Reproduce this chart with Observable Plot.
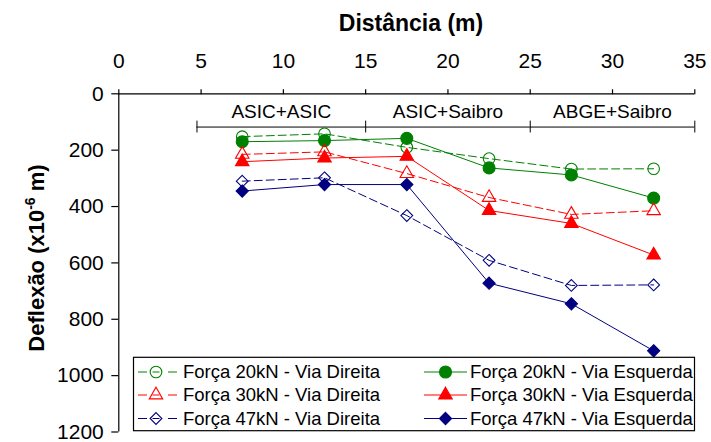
<!DOCTYPE html>
<html>
<head>
<meta charset="utf-8">
<script src="https://cdn.jsdelivr.net/npm/d3@7"></script>
<script src="https://cdn.jsdelivr.net/npm/@observablehq/plot@0.6"></script>
<style>
  html, body { margin: 0; padding: 0; background: #fff; }
  #chart svg { display: block; font-family: "Liberation Sans", Arial, sans-serif; }
</style>
</head>
<body>
<div id="chart"></div>
<script>
// ---- data ----
const distances = [7.5, 12.5, 17.5, 22.5, 27.5, 32.5];
const f20Direita  = [152, 142, 190, 230, 267, 266];
const f20Esquerda = [170, 166, 158, 263, 288, 370];
const f30Direita  = [215, 206, 283, 368, 428, 415];
const f30Esquerda = [241, 228, 222, 414, 460, 572];
const f47Direita  = [310, 298, 432, 591, 680, 678];
const f47Esquerda = [345, 322, 322, 672, 745, 912];

const xTicks = [0, 5, 10, 15, 20, 25, 30, 35];
const yTicks = [0, 200, 400, 600, 800, 1000, 1200];

const segmentLabels = ["ASIC+ASIC", "ASIC+Saibro", "ABGE+Saibro"];
const segmentStarts = [4.75, 15, 25];
const segmentEnds   = [15, 25, 35];

const seriesNames = [
  "Força 20kN - Via Direita", "Força 20kN - Via Esquerda",
  "Força 30kN - Via Direita", "Força 30kN - Via Esquerda",
  "Força 47kN - Via Direita", "Força 47kN - Via Esquerda"
];
const seriesValues = [f20Direita, f20Esquerda, f30Direita, f30Esquerda, f47Direita, f47Esquerda];
const seriesColors = ["#008000", "#008000", "#FF0000", "#FF0000", "#000080", "#000080"];
const seriesSymbols = ["circle", "circle", "triangle", "triangle", "diamond2", "diamond2"];
const seriesFilled = [false, true, false, true, false, true];
const seriesR = [5.8, 6, 5, 5, 5.3, 5.5];

// ---- build ----
const W = 711, H = 442;
const marks = [];

// bracket annotations (in data space)
const segs = segmentLabels.map((l, i) => ({label: l, x1: segmentStarts[i], x2: segmentEnds[i], mid: (segmentStarts[i] + segmentEnds[i]) / 2}));
const bracketLevel = 118;
const bounds = [segmentStarts[0], ...segmentEnds];
marks.push(Plot.ruleY(segs, {x1: "x1", x2: "x2", y: bracketLevel, stroke: "black", strokeWidth: 1}));
marks.push(Plot.ruleX(bounds, {x: d => d, y1: bracketLevel - 21, y2: bracketLevel + 21, stroke: "black", strokeWidth: 1}));
marks.push(Plot.text(segs, {x: "mid", y: bracketLevel, dy: -15, text: "label", fontSize: 19, fill: "black"}));

// lines
seriesValues.forEach((vals, i) => {
  const data = distances.map((d, j) => ({x: d, y: vals[j]}));
  marks.push(Plot.line(data, {
    x: "x", y: "y", stroke: seriesColors[i], strokeWidth: 1,
    strokeDasharray: seriesFilled[i] ? null : "8,4"
  }));
});
// dots
seriesValues.forEach((vals, i) => {
  const data = distances.map((d, j) => ({x: d, y: vals[j]}));
  marks.push(Plot.dot(data, {
    x: "x", y: "y", symbol: seriesSymbols[i], r: seriesR[i],
    stroke: seriesColors[i], strokeWidth: 1.1,
    fill: seriesFilled[i] ? seriesColors[i] : "none"
  }));
});

// axes
marks.push(Plot.ruleY([0], {stroke: "black", strokeWidth: 1.2}));
marks.push(Plot.ruleX([0], {stroke: "black", strokeWidth: 1.2}));
marks.push(Plot.axisX(xTicks, {anchor: "top", tickSize: 5, tickPadding: 21, fontSize: 21, label: null, tickFormat: d => String(d), stroke: "black", strokeWidth: 1.2}));
marks.push(Plot.axisY(yTicks, {anchor: "left", tickSize: 7, tickPadding: 8, fontSize: 21, label: null, tickFormat: d => String(d), stroke: "black", strokeWidth: 1.2}));

const svg = Plot.plot({
  width: W, height: H,
  marginLeft: 118.3, marginRight: 16.7, marginTop: 93.3, marginBottom: 10.5,
  x: {domain: [0, 35]},
  y: {domain: [0, 1200], reverse: true},
  style: {fontFamily: "'Liberation Sans', Arial, sans-serif", color: "black", background: "white", overflow: "visible"},
  marks
});

const s = d3.select(svg);
// axis titles
s.append("text")
  .attr("x", 411).attr("y", 31)
  .attr("text-anchor", "middle")
  .attr("font-size", 23).attr("font-weight", "bold").attr("fill", "black")
  .text("Distância (m)");

const yl = s.append("text")
  .attr("transform", "translate(44,258) rotate(-90)")
  .attr("text-anchor", "middle")
  .attr("font-size", 22).attr("font-weight", "bold").attr("fill", "black");
yl.append("tspan").text("Deflexão (x10");
yl.append("tspan").attr("font-size", 14).attr("dy", -9).text("-6");
yl.append("tspan").attr("dy", 9).text(" m)");

// legend
const lg = s.append("g");
const box = {x: 133.5, y: 357.3, w: 561, h: 73.4};
lg.append("rect").attr("x", box.x).attr("y", box.y).attr("width", box.w).attr("height", box.h)
  .attr("fill", "white").attr("stroke", "black").attr("stroke-width", 1.2);
const rowsY = [372, 395, 418.5];
const colDefs = [
  {lineX1: 138, lineX2: 177, markX: 156, textX: 183},
  {lineX1: 424, lineX2: 467, markX: 445.5, textX: 470}
];
const d3sym = {circle: d3.symbolCircle, triangle: d3.symbolTriangle, diamond2: d3.symbolDiamond2};
seriesNames.forEach((name, i) => {
  const col = colDefs[i % 2], ry = rowsY[Math.floor(i / 2)];
  const dashed = !seriesFilled[i];
  if (dashed) {
    lg.append("line").attr("x1", col.lineX1).attr("x2", col.lineX1 + 9).attr("y1", ry).attr("y2", ry)
      .attr("stroke", seriesColors[i]).attr("stroke-width", 1);
    lg.append("line").attr("x1", col.lineX2 - 9).attr("x2", col.lineX2).attr("y1", ry).attr("y2", ry)
      .attr("stroke", seriesColors[i]).attr("stroke-width", 1);
    lg.append("line").attr("x1", col.markX - 3.5).attr("x2", col.markX + 3.5).attr("y1", ry).attr("y2", ry)
      .attr("stroke", seriesColors[i]).attr("stroke-width", 1);
  } else {
    lg.append("line").attr("x1", col.lineX1).attr("x2", col.lineX2).attr("y1", ry).attr("y2", ry)
      .attr("stroke", seriesColors[i]).attr("stroke-width", 1);
  }
  const r = seriesR[i];
  const sym = d3.symbol(d3sym[seriesSymbols[i]], Math.PI * r * r)();
  lg.append("path").attr("d", sym)
    .attr("transform", `translate(${col.markX},${ry})`)
    .attr("fill", seriesFilled[i] ? seriesColors[i] : "none")
    .attr("stroke", seriesColors[i]).attr("stroke-width", 1.1);
  lg.append("text").attr("x", col.textX).attr("y", ry).attr("dy", "0.35em")
    .attr("text-anchor", "start")
    .attr("font-size", 18.5).attr("fill", "black").text(name);
});

document.getElementById("chart").appendChild(svg);
</script>
</body>
</html>
